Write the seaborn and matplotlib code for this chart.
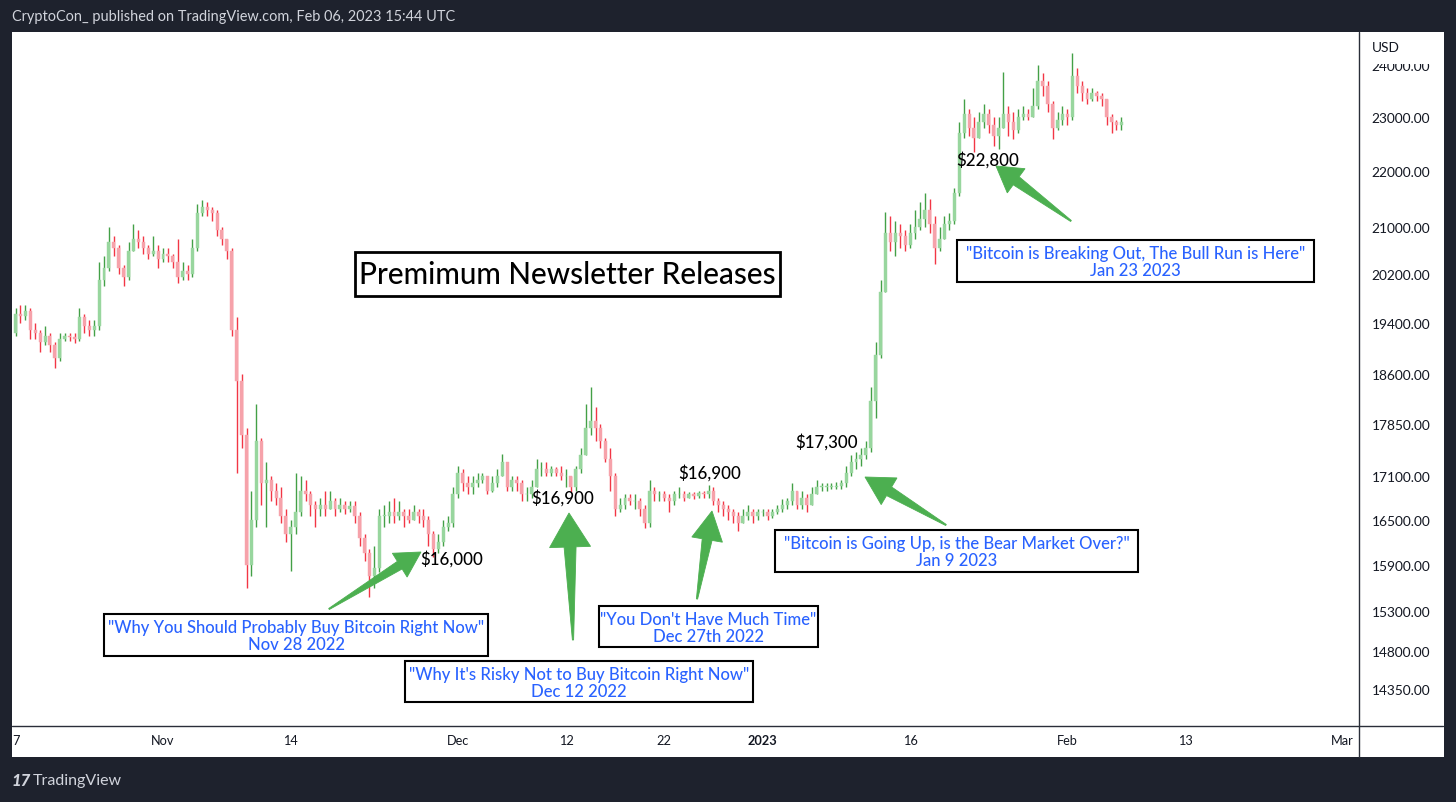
import numpy as np
import pandas as pd
import matplotlib
matplotlib.use("Agg")
import matplotlib.pyplot as plt
import matplotlib.dates as mdates
from matplotlib.patches import Polygon, Rectangle
from matplotlib.lines import Line2D
from matplotlib.ticker import FixedLocator, NullLocator, FuncFormatter, NullFormatter
import seaborn as sns

# ---------------- data (12h BTCUSD candles) ----------------
start_time = "2022-10-17 00:00"
first_open = 19250

oct_close = [19550, 19520, 19600, 19300, 19250, 19100, 19200, 19050, 18850, 19150,
             19200, 19180, 19150, 19500, 19350, 19300, 19350, 20100, 20300, 20750,
             20650, 20300, 20150, 20600, 20800, 20750, 20650, 20550, 20600, 20450]
oct_high = [19650, 19700, 19700, 19650, 19400, 19300, 19350, 19250, 19100, 19250,
            19250, 19250, 19250, 19650, 19550, 19450, 19450, 20400, 20500, 21000,
            20850, 20700, 20350, 20750, 21050, 20950, 20850, 20700, 20850, 20700]
oct_low = [19200, 19400, 19450, 19150, 19150, 18950, 19050, 18950, 18700, 18800,
           19120, 19120, 19080, 19120, 19250, 19200, 19200, 19300, 20000, 20250,
           20500, 20200, 20000, 20100, 20600, 20650, 20550, 20450, 20500, 20300]

nov_close = [20550, 20500, 20400, 20150, 20250, 20200, 20650, 21250, 21350, 21300,
             21250, 20950, 20800, 20600, 19300, 18500, 17700, 15900, 16500, 17600,
             17000, 17050, 16900, 16800, 16550, 16300, 16400, 16600, 16900, 16850,
             16700, 16650, 16700, 16650, 16750, 16650, 16700, 16650, 16680, 16550,
             16250, 16050, 15750, 15850, 16550, 16550, 16600, 16550, 16600, 16550,
             16500, 16600, 16550, 16500, 16300, 16100, 16200, 16400, 16450, 16850,
             17150]
nov_high = [20650, 20650, 20550, 20800, 20400, 20350, 20800, 21400, 21480, 21450,
            21350, 21300, 21000, 20800, 20650, 19500, 18600, 17800, 16900, 18150,
            17650, 17300, 17100, 17000, 16950, 16650, 16500, 17150, 17100, 17050,
            16900, 16750, 16800, 16900, 16900, 16800, 16800, 16750, 16750, 16750,
            16600, 16300, 16100, 16150, 16650, 16700, 16750, 16800, 16750, 16650,
            16650, 16700, 16650, 16650, 16550, 16350, 16300, 16500, 16550, 16950,
            17250]
nov_low = [20400, 20400, 20300, 20050, 20100, 20100, 20150, 20600, 21200, 21200,
           21100, 20850, 20700, 20450, 19200, 17150, 17500, 15600, 15750, 16400,
           16700, 16400, 16750, 16700, 16450, 16200, 15820, 16300, 16550, 16750,
           16550, 16400, 16550, 16550, 16650, 16550, 16600, 16580, 16600, 16450,
           16150, 15950, 15480, 15600, 15800, 16400, 16450, 16450, 16500, 16400,
           16450, 16500, 16450, 16400, 16150, 16000, 16050, 16150, 16350, 16400,
           16800]

dec_close = [17000, 16950, 17000, 17050, 17100, 16900, 17000, 17100, 17300, 16950,
             17050, 17000, 16850, 16850, 16950, 17200, 17200, 17150, 17200, 17150,
             17100, 17100, 16950, 17200, 17400, 17800, 17900, 17800, 17600, 17350,
             17100, 16650, 16700, 16800, 16750, 16750, 16650, 16450, 16900, 16850,
             16850, 16800, 16750, 16850, 16850, 16800, 16850, 16830, 16860, 16850,
             16900, 16750, 16700, 16650, 16600, 16550, 16450, 16550, 16600, 16550,
             16600, 16600, 16550]
dec_high = [17200, 17100, 17100, 17150, 17150, 17100, 17100, 17200, 17420, 17300,
            17100, 17100, 17050, 16950, 17050, 17350, 17300, 17300, 17250, 17230,
            17250, 17200, 17100, 17250, 17500, 18150, 18400, 18100, 17850, 17650,
            17500, 17150, 16800, 16850, 16850, 16850, 16800, 16700, 17050, 16950,
            16900, 16900, 16850, 16900, 16950, 16900, 16880, 16880, 16900, 16900,
            16980, 16950, 16800, 16750, 16700, 16650, 16600, 16650, 16700, 16650,
            16650, 16650, 16650]
dec_low = [16900, 16850, 16850, 16950, 17000, 16850, 16880, 16950, 17100, 16900,
           16900, 16900, 16750, 16750, 16800, 16950, 17100, 17100, 17100, 17100,
           17050, 16950, 16880, 16900, 17150, 17400, 17700, 17600, 17500, 17300,
           16900, 16550, 16600, 16650, 16700, 16650, 16550, 16380, 16400, 16750,
           16750, 16750, 16600, 16700, 16800, 16750, 16800, 16780, 16800, 16800,
           16800, 16700, 16600, 16550, 16500, 16450, 16350, 16450, 16500, 16450,
           16500, 16550, 16500]

jan_close = [16600, 16650, 16700, 16750, 16900, 16700, 16800, 16700, 16850, 16950,
             16950, 16950, 16950, 16970, 17000, 17150, 17300, 17350, 17400, 17500,
             18200, 18900, 19900, 20900, 20750, 20900, 20850, 20700, 20900, 21000,
             21150, 21300, 21050, 20650, 20800, 21050, 21100, 21600, 22700, 23050,
             22800, 22600, 22900, 23050, 22850, 22650, 22800, 23050, 22900, 22750,
             23000, 23050, 23000, 23200, 23700, 23600, 23250, 22800, 22950, 23050,
             23000, 23800, 23600]
jan_high = [16650, 16700, 16780, 16800, 17000, 16900, 16900, 16850, 16950, 17050,
            17000, 17000, 17000, 17020, 17050, 17250, 17400, 17450, 17500, 17600,
            18400, 19100, 20100, 21270, 21200, 21100, 21050, 20950, 21050, 21300,
            21450, 21600, 21500, 21200, 21000, 21200, 21250, 21700, 22900, 23350,
            23150, 23000, 23100, 23250, 23150, 23000, 23000, 23870, 23200, 23100,
            23150, 23200, 23150, 23550, 24000, 23850, 23700, 23300, 23100, 23200,
            23150, 24250, 23950]
jan_low = [16520, 16580, 16600, 16650, 16700, 16650, 16650, 16600, 16700, 16850,
           16900, 16900, 16920, 16920, 16920, 16950, 17100, 17200, 17250, 17350,
           17450, 17950, 18850, 19900, 20600, 20500, 20650, 20600, 20650, 20800,
           20950, 21000, 20900, 20370, 20600, 20850, 20950, 21050, 21550, 22600,
           22650, 22350, 22600, 22800, 22700, 22450, 22400, 22800, 22650, 22590,
           22700, 22950, 22950, 23000, 23150, 23400, 23100, 22590, 22750, 22850,
           22850, 22950, 23450]

feb_close = [23450, 23350, 23450, 23400, 23350, 23000, 22900, 22850, 22900]
feb_high = [23700, 23550, 23550, 23500, 23450, 23350, 23050, 22950, 23000]
feb_low = [23300, 23250, 23300, 23300, 23200, 22850, 22700, 22750, 22750]

price_ticks = [14350, 14800, 15300, 15900, 16500, 17100, 17850, 18600,
               19400, 20200, 21000, 22000, 23000, 24000]
date_ticks = ["2022-10-17", "2022-11-01", "2022-11-14", "2022-12-01", "2022-12-12",
              "2022-12-22", "2023-01-01", "2023-01-16", "2023-02-01", "2023-02-13",
              "2023-03-01"]
date_tick_labels = ["7", "Nov", "14", "Dec", "12", "22", "2023", "16", "Feb", "13", "Mar"]

title_text = "Premimum Newsletter Releases"
header_text = "CryptoCon_ published on TradingView.com, Feb 06, 2023 15:44 UTC"

# ---------------- build candles ----------------
close = oct_close + nov_close + dec_close + jan_close + feb_close
high = oct_high + nov_high + dec_high + jan_high + feb_high
low = oct_low + nov_low + dec_low + jan_low + feb_low
n = min(len(close), len(high), len(low))
close, high, low = close[:n], high[:n], low[:n]
opens = [first_open] + close[:-1]
df = pd.DataFrame({
    "date": pd.date_range(start_time, periods=n, freq="12h"),
    "open": opens, "high": high, "low": low, "close": close,
})
df["high"] = df[["high", "open", "close"]].max(axis=1)
df["low"] = df[["low", "open", "close"]].min(axis=1)
df["up"] = df["close"] >= df["open"]
df["x"] = mdates.date2num(df["date"])
df["bottom"] = df[["open", "close"]].min(axis=1)
df["height"] = (df["close"] - df["open"]).abs().clip(lower=8)

# ---------------- figure ----------------
W, H, DPI = 1456, 803, 100
sns.set_theme(style="white")
plt.rcParams["font.family"] = ["Lato", "DejaVu Sans"]

BG = "#1e222d"
GREEN_W, GREEN_B = "#43a047", "#98d69e"
RED_W, RED_B = "#f23645", "#f6a2aa"
ARROW = "#4caf50"
BLUE = "#2962ff"
INK = "#131722"

fig = plt.figure(figsize=(W / DPI, H / DPI), dpi=DPI, facecolor=BG)


def fx(x):
    return x / W


def fy(y):
    return 1 - y / H


# white chart panel
fig.patches.append(Rectangle((fx(12), fy(758)), fx(1444) - fx(12), fy(33) - fy(758),
                             transform=fig.transFigure, facecolor="white",
                             edgecolor="none", zorder=-2))

ax = fig.add_axes([fx(12), fy(727), fx(1359) - fx(12), fy(33) - fy(727)])
ax.set_facecolor("white")

# candles
for is_up, wc, bc in [(True, GREEN_W, GREEN_B), (False, RED_W, RED_B)]:
    sub = df[df["up"] == is_up]
    ax.vlines(sub["x"], sub["low"], sub["high"], colors=wc, linewidth=1.0, zorder=2)
    ax.bar(sub["x"], sub["height"], bottom=sub["bottom"], width=0.3,
           color=bc, edgecolor=bc, linewidth=0.3, zorder=3)

ax.set_yscale("log")
ax.set_ylim(13917, 24670)
ax.yaxis.tick_right()
ax.yaxis.set_major_locator(FixedLocator(price_ticks))
ax.yaxis.set_minor_locator(NullLocator())
ax.yaxis.set_major_formatter(FuncFormatter(lambda v, p: f"{v:.2f}"))
ax.yaxis.set_minor_formatter(NullFormatter())
ax.tick_params(axis="y", length=0, pad=9, labelsize=9.9, labelcolor=INK)

nov1 = pd.Timestamp("2022-11-01")
ax.set_xlim(mdates.date2num(nov1 - pd.Timedelta(days=15.36)),
            mdates.date2num(nov1 + pd.Timedelta(days=121.67)))
ax.set_xticks(mdates.date2num(pd.to_datetime(date_ticks)), date_tick_labels)
ax.tick_params(axis="x", length=0, pad=6, labelsize=9.2, labelcolor=INK)
for lab in ax.get_xticklabels():
    if lab.get_text() == "2023":
        lab.set_fontweight("bold")
ax.grid(False)
for s in ax.spines.values():
    s.set_visible(False)

# frame lines of the chart panel
fig.lines.append(Line2D([fx(12), fx(1443)], [fy(727), fy(727)], transform=fig.transFigure,
                        color="#2a2e39", linewidth=1.0, zorder=6))
fig.lines.append(Line2D([fx(1359), fx(1359)], [fy(33), fy(758)], transform=fig.transFigure,
                        color="#2a2e39", linewidth=1.0, zorder=6))

# USD label covering the top of the 24000 label
fig.patches.append(Rectangle((fx(1360), fy(65)), fx(1443) - fx(1360), fy(33) - fy(65),
                             transform=fig.transFigure, facecolor="white",
                             edgecolor="none", zorder=5))
fig.text(fx(1372), fy(48), "USD", fontsize=9.9, color=INK, va="center", ha="left", zorder=7)

# header / footer
fig.text(fx(12), fy(17), header_text, fontsize=10.45, color="#d1d4dc", va="center", ha="left")
fig.text(fx(11), fy(781), "17", fontsize=12, fontweight="black", color="#d1d4dc",
         va="center", ha="left", fontstyle="italic")
fig.text(fx(33), fy(781), "TradingView", fontsize=11.5, color="#d1d4dc", va="center", ha="left")


# ---------------- annotations ----------------
def box(x0, y0, x1, y1, lw=1.5):
    fig.patches.append(Rectangle((fx(x0), fy(y1)), fx(x1) - fx(x0), fy(y0) - fy(y1),
                                 transform=fig.transFigure, facecolor="white",
                                 edgecolor="black", linewidth=lw, zorder=8))


def label_box(x0, y0, x1, y1, line1, line2, size=12.0):
    box(x0, y0, x1, y1)
    cx = (x0 + x1) / 2
    fig.text(fx(cx), fy(y0 + 13), line1, fontsize=size, color=BLUE, fontweight=500,
             ha="center", va="center", zorder=9)
    fig.text(fx(cx), fy(y0 + 30), line2, fontsize=size, color=BLUE, fontweight=500,
             ha="center", va="center", zorder=9)


def arrow(tail, tip, head_len, head_w, shaft_w, tail_w=1.2):
    t = np.array(tail, float)
    p = np.array(tip, float)
    d = p - t
    u = d / np.hypot(*d)
    nrm = np.array([-u[1], u[0]])
    base = p - u * head_len
    pts = [t + nrm * tail_w / 2, base + nrm * shaft_w / 2, base + nrm * head_w / 2, p,
           base - nrm * head_w / 2, base - nrm * shaft_w / 2, t - nrm * tail_w / 2]
    fig.patches.append(Polygon([(fx(a), fy(b)) for a, b in pts], closed=True,
                               transform=fig.transFigure, facecolor=ARROW,
                               edgecolor=ARROW, linewidth=0.6, zorder=6))


# title
box(355, 253, 780, 297, lw=2.0)
fig.text(fx(567.5), fy(275), title_text, fontsize=21.3, color="black", fontweight=500,
         ha="center", va="center", zorder=9)

label_box(104, 615, 488, 657, '"Why You Should Probably Buy Bitcoin Right Now"', "Nov 28 2022")
label_box(405, 662, 753, 703, '"Why It\'s Risky Not to Buy Bitcoin Right Now"', "Dec 12 2022")
label_box(599, 607, 818, 648, '"You Don\'t Have Much Time"', "Dec 27th 2022")
label_box(775, 531, 1138, 573, '"Bitcoin is Going Up, is the Bear Market Over?"', "Jan 9 2023")
label_box(957, 241, 1314, 283, '"Bitcoin is Breaking Out, The Bull Run is Here"', "Jan 23 2023")

arrow((329, 610), (421, 553), 25, 28, 9)
arrow((573, 641), (569, 514), 34, 41, 12)
arrow((697, 600), (712, 512), 29, 31, 10)
arrow((946, 526), (865, 478), 28, 31, 10)
arrow((1071, 222), (996, 167), 25, 30, 10)

for txt, (x, y) in [("$16,000", (452, 559)), ("$16,900", (563, 498)),
                    ("$16,900", (710, 473)), ("$17,300", (827, 442)),
                    ("$22,800", (988, 160))]:
    fig.text(fx(x), fy(y), txt, fontsize=12.2, color="black", fontweight=500,
             ha="center", va="center", zorder=9)

fig.savefig("out.png", dpi=DPI, facecolor=BG)
